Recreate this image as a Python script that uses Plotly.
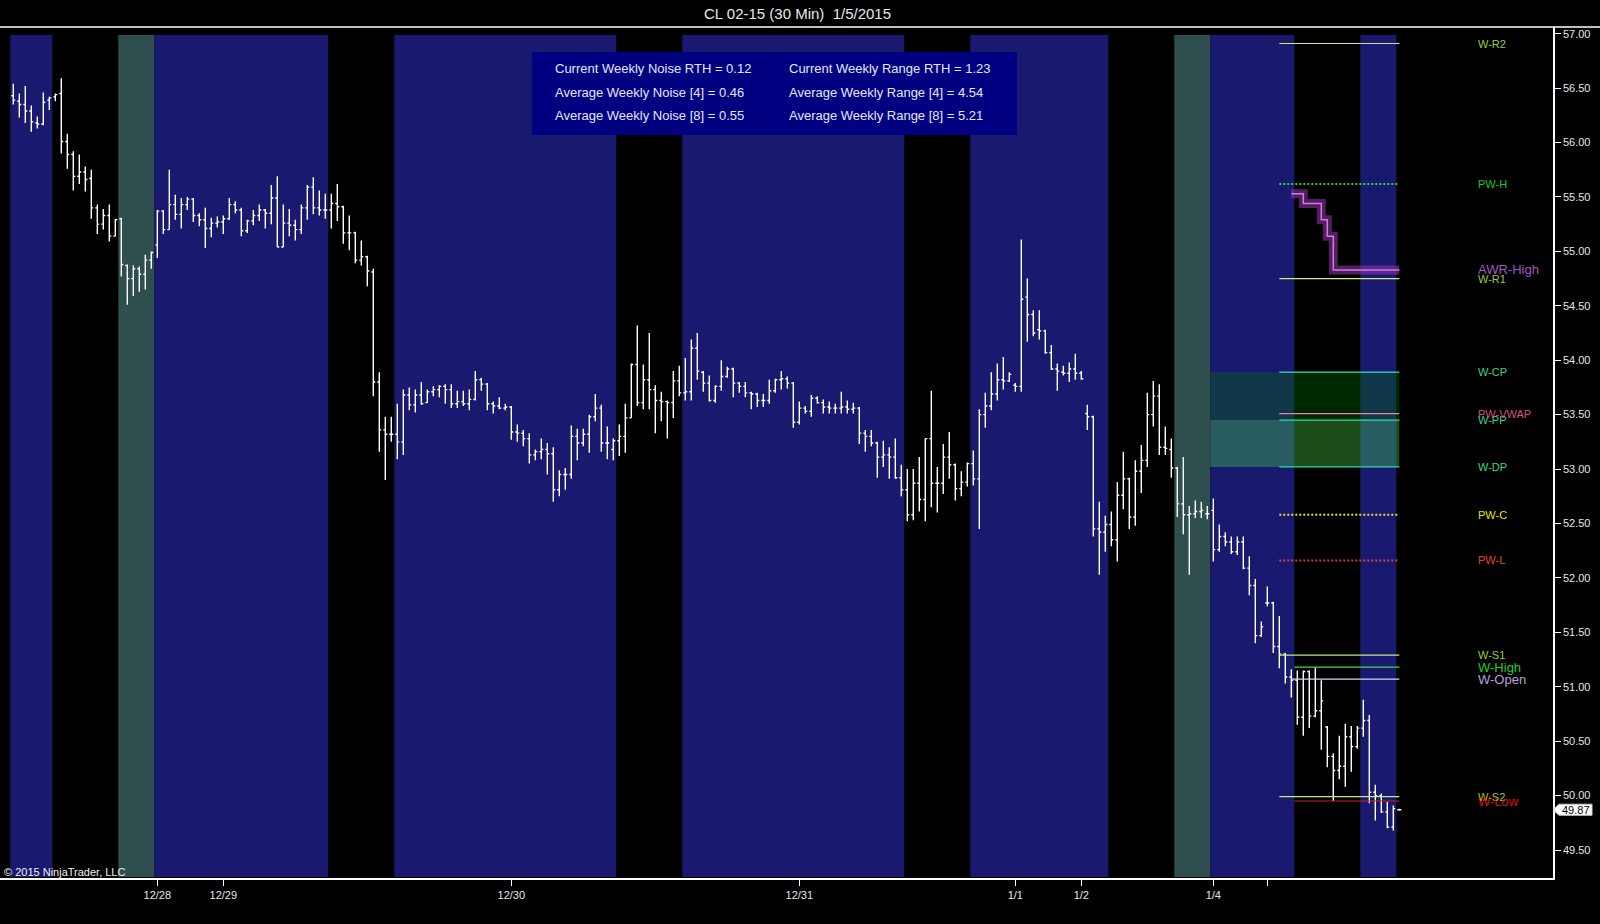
import plotly.graph_objects as go

# ---------------- data ----------------
opens = [56.43, 56.38, 56.35, 56.29, 56.18, 56.17, 56.39, 56.42, 56.45, 56.01,
         55.89, 55.69, 55.73, 55.67, 55.40, 55.25, 55.33, 55.14, 55.30, 54.87,
         54.75, 54.84, 54.79, 54.92, 55.06, 55.37, 55.20, 55.43, 55.34, 55.43,
         55.48, 55.33, 55.29, 55.21, 55.26, 55.27, 55.30, 55.43, 55.38, 55.19,
         55.28, 55.33, 55.38, 55.35, 55.49, 55.04, 55.26, 55.24, 55.20, 55.40,
         55.59, 55.40, 55.38, 55.38, 55.44, 55.41, 55.17, 55.17, 54.92, 54.95,
         54.81, 53.80, 53.36, 53.32, 53.32, 53.25, 53.68, 53.59, 53.68, 53.61,
         53.71, 53.73, 53.76, 53.73, 53.60, 53.62, 53.60, 53.64, 53.82, 53.78,
         53.60, 53.58, 53.56, 53.57, 53.34, 53.33, 53.28, 53.13, 53.16, 53.18,
         53.14, 52.81, 52.95, 52.95, 53.30, 53.24, 53.32, 53.48, 53.56, 53.24,
         53.18, 53.26, 53.30, 53.47, 53.96, 53.61, 53.82, 53.73, 53.63, 53.62,
         53.61, 53.81, 53.70, 53.71, 54.11, 53.89, 53.79, 53.63, 53.76, 53.85,
         53.92, 53.79, 53.76, 53.70, 53.69, 53.63, 53.63, 53.72, 53.82, 53.83,
         53.79, 53.43, 53.56, 53.53, 53.65, 53.61, 53.57, 53.56, 53.56, 53.57,
         53.55, 53.56, 53.33, 53.30, 53.24, 53.11, 53.13, 53.11, 52.92, 52.81,
         52.58, 52.87, 52.72, 53.28, 52.87, 52.87, 53.11, 53.04, 52.82, 52.88,
         53.05, 52.91, 53.50, 53.58, 53.69, 53.82, 53.81, 53.77, 53.76, 54.58,
         54.42, 54.28, 54.27, 54.07, 53.92, 53.89, 53.88, 53.92, 53.88, 53.51,
         53.48, 52.45, 52.42, 52.49, 52.35, 52.76, 52.91, 52.56, 52.98, 53.08,
         53.50, 53.67, 53.20, 53.18, 53.01, 52.68, 52.58, 52.59, 52.61, 52.59,
         52.62, 52.26, 52.38, 52.33, 52.24, 52.33, 52.09, 51.93, 51.47, 51.77,
         51.77, 51.37, 51.30, 51.09, 51.06, 50.72, 51.14, 50.73, 50.78, 50.63,
         50.36, 50.23, 50.27, 50.54, 50.45, 50.62, 50.69, 50.03, 50.00, 49.85,
         49.71, 49.87]
highs = [56.54, 56.45, 56.52, 56.34, 56.24, 56.46, 56.42, 56.45, 56.59, 56.08,
         55.92, 55.89, 55.78, 55.75, 55.43, 55.39, 55.43, 55.30, 55.31, 54.88,
         54.87, 54.86, 54.97, 55.00, 55.38, 55.38, 55.75, 55.52, 55.49, 55.50,
         55.49, 55.35, 55.40, 55.31, 55.32, 55.33, 55.49, 55.46, 55.40, 55.29,
         55.38, 55.43, 55.39, 55.61, 55.69, 55.43, 55.39, 55.29, 55.43, 55.61,
         55.68, 55.56, 55.53, 55.53, 55.62, 55.42, 55.33, 55.18, 55.10, 54.96,
         54.84, 53.89, 53.48, 53.48, 53.60, 53.73, 53.75, 53.73, 53.80, 53.73,
         53.76, 53.77, 53.78, 53.78, 53.72, 53.72, 53.73, 53.90, 53.84, 53.79,
         53.62, 53.66, 53.60, 53.58, 53.41, 53.36, 53.33, 53.18, 53.28, 53.24,
         53.20, 52.99, 53.01, 53.40, 53.37, 53.37, 53.50, 53.69, 53.59, 53.39,
         53.28, 53.41, 53.60, 53.97, 54.32, 53.96, 54.25, 53.77, 53.71, 53.63,
         53.90, 53.95, 54.02, 54.19, 54.25, 53.90, 53.86, 53.77, 54.00, 53.94,
         53.93, 53.80, 53.80, 53.71, 53.70, 53.69, 53.82, 53.83, 53.90, 53.85,
         53.80, 53.62, 53.58, 53.68, 53.67, 53.64, 53.62, 53.60, 53.71, 53.63,
         53.61, 53.57, 53.36, 53.36, 53.25, 53.26, 53.20, 53.28, 53.04, 53.00,
         53.00, 53.11, 53.28, 53.72, 53.02, 53.23, 53.34, 53.05, 52.98, 53.06,
         53.17, 53.55, 53.70, 53.89, 53.97, 54.03, 53.89, 53.79, 55.11, 54.75,
         54.46, 54.46, 54.28, 54.14, 53.97, 53.95, 53.98, 54.06, 53.90, 53.59,
         53.49, 52.70, 52.57, 52.61, 52.88, 53.16, 52.92, 53.08, 53.22, 53.70,
         53.81, 53.78, 53.39, 53.28, 53.02, 53.11, 52.66, 52.71, 52.70, 52.66,
         52.73, 52.49, 52.42, 52.38, 52.38, 52.38, 52.20, 51.99, 51.60, 51.92,
         51.78, 51.65, 51.31, 51.16, 51.15, 51.15, 51.15, 51.18, 51.06, 50.64,
         50.39, 50.55, 50.66, 50.64, 50.64, 50.88, 50.74, 50.10, 50.02, 49.94,
         49.91, 49.88]
lows = [56.35, 56.23, 56.18, 56.10, 56.13, 56.16, 56.30, 56.38, 55.90, 55.76,
        55.56, 55.62, 55.55, 55.30, 55.16, 55.20, 55.09, 55.14, 54.77, 54.51,
        54.59, 54.63, 54.65, 54.84, 54.94, 55.16, 55.20, 55.29, 55.21, 55.38,
        55.27, 55.23, 55.03, 55.13, 55.22, 55.16, 55.29, 55.35, 55.14, 55.17,
        55.24, 55.28, 55.21, 55.25, 55.04, 55.04, 55.14, 55.10, 55.16, 55.29,
        55.34, 55.33, 55.30, 55.21, 55.28, 55.07, 55.01, 54.89, 54.87, 54.68,
        53.67, 53.16, 52.90, 53.25, 53.09, 53.13, 53.54, 53.52, 53.59, 53.61,
        53.67, 53.66, 53.60, 53.56, 53.56, 53.58, 53.54, 53.63, 53.72, 53.54,
        53.51, 53.55, 53.54, 53.27, 53.25, 53.21, 53.05, 53.08, 53.09, 52.95,
        52.70, 52.75, 52.81, 52.91, 53.08, 53.21, 53.15, 53.44, 53.16, 53.09,
        53.08, 53.12, 53.15, 53.47, 53.58, 53.55, 53.55, 53.33, 53.44, 53.28,
        53.47, 53.67, 53.63, 53.63, 53.82, 53.71, 53.62, 53.61, 53.72, 53.84,
        53.66, 53.70, 53.66, 53.55, 53.57, 53.57, 53.60, 53.70, 53.73, 53.74,
        53.38, 53.41, 53.51, 53.48, 53.60, 53.51, 53.51, 53.51, 53.51, 53.51,
        53.51, 53.23, 53.16, 53.21, 52.92, 53.02, 52.91, 52.91, 52.75, 52.52,
        52.53, 52.61, 52.52, 52.65, 52.60, 52.77, 52.91, 52.71, 52.75, 52.84,
        52.85, 52.45, 53.38, 53.54, 53.63, 53.73, 53.80, 53.71, 53.71, 54.17,
        54.22, 54.19, 54.06, 53.91, 53.72, 53.86, 53.80, 53.82, 53.82, 53.36,
        52.38, 52.03, 52.24, 52.29, 52.15, 52.63, 52.45, 52.48, 52.78, 53.02,
        53.39, 53.13, 53.13, 52.92, 52.56, 52.40, 52.03, 52.55, 52.55, 52.54,
        52.15, 52.24, 52.29, 52.22, 52.21, 52.08, 51.84, 51.40, 51.46, 51.74,
        51.31, 51.17, 51.03, 50.90, 50.65, 50.55, 50.62, 50.72, 50.42, 50.26,
        49.95, 50.15, 50.08, 50.22, 50.43, 50.54, 49.93, 49.77, 49.84, 49.70,
        49.68, 49.86]
closes = [56.39, 56.35, 56.29, 56.19, 56.17, 56.37, 56.41, 56.44, 56.01, 55.89,
          55.69, 55.73, 55.66, 55.40, 55.25, 55.33, 55.14, 55.29, 54.88, 54.75,
          54.84, 54.79, 54.92, 54.99, 55.37, 55.20, 55.43, 55.34, 55.43, 55.48,
          55.33, 55.29, 55.21, 55.26, 55.27, 55.30, 55.43, 55.38, 55.19, 55.28,
          55.33, 55.38, 55.35, 55.49, 55.04, 55.26, 55.24, 55.20, 55.40, 55.59,
          55.40, 55.38, 55.38, 55.44, 55.41, 55.17, 55.17, 54.92, 54.95, 54.82,
          53.80, 53.36, 53.32, 53.32, 53.25, 53.68, 53.59, 53.68, 53.60, 53.71,
          53.73, 53.76, 53.73, 53.60, 53.62, 53.60, 53.64, 53.82, 53.78, 53.60,
          53.58, 53.56, 53.57, 53.34, 53.33, 53.28, 53.13, 53.16, 53.18, 53.14,
          52.81, 52.95, 52.95, 53.30, 53.24, 53.32, 53.48, 53.56, 53.24, 53.24,
          53.26, 53.30, 53.47, 53.96, 53.61, 53.82, 53.73, 53.63, 53.62, 53.61,
          53.81, 53.70, 53.71, 54.11, 53.90, 53.79, 53.63, 53.76, 53.85, 53.92,
          53.79, 53.76, 53.70, 53.69, 53.63, 53.63, 53.72, 53.82, 53.83, 53.79,
          53.43, 53.56, 53.53, 53.65, 53.61, 53.57, 53.56, 53.56, 53.57, 53.55,
          53.56, 53.33, 53.30, 53.24, 53.11, 53.13, 53.11, 52.92, 52.81, 52.58,
          52.87, 52.72, 53.28, 52.87, 52.87, 53.11, 53.04, 52.82, 52.88, 53.05,
          52.91, 53.50, 53.58, 53.69, 53.82, 53.81, 53.87, 53.76, 54.56, 54.42,
          54.25, 54.27, 54.07, 53.92, 53.90, 53.88, 53.92, 53.88, 53.83, 53.48,
          52.45, 52.42, 52.49, 52.35, 52.76, 52.91, 52.56, 52.98, 53.08, 53.50,
          53.67, 53.20, 53.19, 53.01, 52.68, 52.58, 52.59, 52.61, 52.62, 52.59,
          52.26, 52.38, 52.33, 52.24, 52.33, 52.09, 51.93, 51.47, 51.55, 51.77,
          51.37, 51.30, 51.09, 51.06, 50.72, 51.14, 50.73, 50.78, 50.87, 50.36,
          50.23, 50.27, 50.54, 50.45, 50.62, 50.69, 50.03, 50.00, 49.85, 49.71,
          49.88, 49.87]
bars = list(range(len(opens)))

date_tick_bars = [24, 35, 83, 131, 167, 178, 200, 209]
date_tick_labels = ["12/28", "12/29", "12/30", "12/31", "1/1", "1/2", "1/4", ""]

price_ticks = [49.50, 50.00, 50.50, 51.00, 51.50, 52.00, 52.50, 53.00,
               53.50, 54.00, 54.50, 55.00, 55.50, 56.00, 56.50, 57.00]

# session shading (bar index ranges)
session_start = [0, 18, 24, 64, 112, 160, 194, 200, 225]
session_end = [7, 24, 53, 101, 149, 183, 200, 214, 231]
session_kind = ["eth", "sun", "eth", "eth", "eth", "eth", "sun", "eth", "eth"]

# weekly levels
level_names = ["W-R2", "PW-H", "W-R1", "W-CP", "W-PP", "PW-VWAP", "W-DP",
               "PW-C", "PW-L", "W-S1", "W-High", "W-Open", "W-S2", "W-Low"]
level_prices = [56.91, 55.62, 54.75, 53.89, 53.45, 53.51, 53.02,
                52.58, 52.16, 51.29, 51.18, 51.07, 49.99, 49.95]
level_start = [211, 211, 211, 211, 211, 211, 211,
               211, 211, 211, 213.5, 213, 211, 213.5]
level_end = [231] * len(level_names)

# average weekly range high (stepped)
awr_bars = list(range(213, 232))
awr_values = [55.53, 55.53, 55.44, 55.44, 55.44, 55.29, 55.14] + [54.83] * 12

# pivot zones
zone_start_bar = 199.5
zone_end_bar = 231

# info box
noise_labels = ["Current Weekly Noise RTH", "Average Weekly Noise [4]", "Average Weekly Noise [8]"]
noise_values = [0.12, 0.46, 0.55]
range_labels = ["Current Weekly Range RTH", "Average Weekly Range [4]", "Average Weekly Range [8]"]
range_values = [1.23, 4.54, 5.21]

title_text = "CL 02-15 (30 Min)\u00a0 1/5/2015"

# ---------------- styling ----------------
FONT = "Liberation Sans, Arial, sans-serif"
W, H = 1600, 924
PX_W, PX_TOP, PX_BOT = 1553, 27, 878


def px_x(px):
    return px / PX_W


def px_y(py):
    return (PX_BOT - py) / (PX_BOT - PX_TOP)


session_colors = {"eth": "#191970", "sun": "#2f4f4f"}

line_colors = {"W-R2": "#c8ec7c", "PW-H": "#2ec83c", "W-R1": "#d2f07c", "W-CP": "#3cdcc8",
               "W-PP": "#34dc96", "PW-VWAP": "#f082aa", "W-DP": "#28dca8", "PW-C": "#dcdc3c",
               "PW-L": "#d04040", "W-S1": "#bef07a", "W-High": "#46dc46", "W-Open": "#dcd2ee",
               "W-S2": "#bef07a", "W-Low": "#cc1e1e"}
label_colors = {"W-R2": "#9acd32", "PW-H": "#22c322", "W-R1": "#9acd32", "W-CP": "#3cd28c",
                "W-PP": "#3cd28c", "PW-VWAP": "#d2508c", "W-DP": "#3cd28c", "PW-C": "#e6e600",
                "PW-L": "#e04a2a", "W-S1": "#9acd32", "W-High": "#22cc22", "W-Open": "#b8a0d8",
                "W-S2": "#9acd32", "W-Low": "#dd1111"}
dotted = {"PW-H", "PW-C", "PW-L"}
big_labels = {"W-High", "W-Open", "W-Low"}

fig = go.Figure()

shapes = []
for s, e, k in zip(session_start, session_end, session_kind):
    shapes.append(dict(type="rect", xref="x", yref="paper", x0=s - 0.5, x1=e - 0.5,
                       y0=px_y(877), y1=px_y(35), fillcolor=session_colors[k],
                       line=dict(width=0), layer="below"))

lv = dict(zip(level_names, level_prices))
shapes.append(dict(type="rect", xref="x", yref="y", x0=zone_start_bar, x1=zone_end_bar,
                   y0=lv["W-PP"], y1=lv["W-CP"], fillcolor="rgba(0,114,0,0.35)",
                   line=dict(width=0), layer="below"))
shapes.append(dict(type="rect", xref="x", yref="y", x0=zone_start_bar, x1=zone_end_bar,
                   y0=lv["W-DP"], y1=lv["W-PP"], fillcolor="rgba(69,205,69,0.375)",
                   line=dict(width=0), layer="below"))

# top separator line
shapes.append(dict(type="line", xref="paper", yref="paper", x0=0, x1=W / PX_W, y0=1, y1=1,
                   line=dict(color="white", width=1.5)))

# info box
shapes.append(dict(type="rect", xref="paper", yref="paper", x0=px_x(532), x1=px_x(1017),
                   y0=px_y(135), y1=px_y(52), fillcolor="#000080", line=dict(width=0),
                   layer="above"))

# last price tag
last = closes[-1]
hh = 5.5 / 108.84
shapes.append(dict(type="path", xref="paper", yref="y",
                   path=(f"M {px_x(1553)},{last} L {px_x(1559)},{last + hh} "
                         f"L {px_x(1592)},{last + hh} L {px_x(1592)},{last - hh} "
                         f"L {px_x(1559)},{last - hh} Z"),
                   fillcolor="white", line=dict(color="#cccccc", width=1)))

fig.add_trace(go.Ohlc(x=bars, open=opens, high=highs, low=lows, close=closes,
                      increasing=dict(line=dict(color="white", width=1.4)),
                      decreasing=dict(line=dict(color="white", width=1.4)),
                      tickwidth=0.33, hoverinfo="skip", showlegend=False))

# AWR-High stepped line (glow + core)
fig.add_trace(go.Scatter(x=awr_bars, y=awr_values, mode="lines", line_shape="hv",
                         line=dict(color="rgba(150,55,170,0.55)", width=9),
                         hoverinfo="skip", showlegend=False))
fig.add_trace(go.Scatter(x=awr_bars, y=awr_values, mode="lines", line_shape="hv",
                         line=dict(color="#d27ae6", width=1.5),
                         hoverinfo="skip", showlegend=False))

for name, p, s, e in zip(level_names, level_prices, level_start, level_end):
    fig.add_trace(go.Scatter(x=[s, e], y=[p, p], mode="lines",
                             line=dict(color=line_colors[name],
                                       width=2 if name in dotted else 1.2,
                                       dash="2px,2px" if name in dotted else "solid"),
                             hoverinfo="skip", showlegend=False))

annotations = []
for name, p in zip(level_names, level_prices):
    annotations.append(dict(x=px_x(1476), xref="paper", y=p, yref="y", text=name,
                            showarrow=False, xanchor="left", yanchor="middle",
                            font=dict(family=FONT, size=13 if name in big_labels else 11,
                                      color=label_colors[name])))
annotations.append(dict(x=px_x(1476), xref="paper", y=awr_values[-1], yref="y", text="AWR-High",
                        showarrow=False, xanchor="left", yanchor="middle",
                        font=dict(family=FONT, size=13, color="#a654c4")))

row_y = [69, 92, 115.5]
for k in range(3):
    annotations.append(dict(x=px_x(553), xref="paper", y=px_y(row_y[k]), yref="paper",
                            text=f"{noise_labels[k]} = {noise_values[k]:.2f}", showarrow=False,
                            xanchor="left", yanchor="middle",
                            font=dict(family=FONT, size=13, color="#e6e6fa")))
    annotations.append(dict(x=px_x(786.5), xref="paper", y=px_y(row_y[k]), yref="paper",
                            text=f"{range_labels[k]} = {range_values[k]:.2f}", showarrow=False,
                            xanchor="left", yanchor="middle",
                            font=dict(family=FONT, size=13, color="#e6e6fa")))

annotations.append(dict(x=px_x(797), xref="paper", y=px_y(13.5), yref="paper", text=title_text,
                        showarrow=False, xanchor="center", yanchor="middle",
                        font=dict(family=FONT, size=15, color="#e8e8e8")))
annotations.append(dict(x=px_x(2), xref="paper", y=px_y(872), yref="paper",
                        text="\u00a9 2015 NinjaTrader, LLC", showarrow=False,
                        xanchor="left", yanchor="middle",
                        font=dict(family=FONT, size=11, color="#f0f0f0")))
annotations.append(dict(x=px_x(1575.5), xref="paper", y=last, yref="y", text=f"{last:.2f}",
                        showarrow=False, xanchor="center", yanchor="middle",
                        font=dict(family=FONT, size=11, color="black")))

fig.update_layout(
    width=W, height=H,
    margin=dict(l=0, r=W - PX_W, t=PX_TOP, b=H - PX_BOT, pad=0),
    paper_bgcolor="black", plot_bgcolor="black",
    showlegend=False, font=dict(family=FONT, color="white"),
    shapes=shapes, annotations=annotations,
    xaxis=dict(range=[-13.3 / 6, (PX_W - 13.3) / 6], showgrid=False, zeroline=False,
               showline=True, linecolor="white", linewidth=1.5, ticks="outside", ticklen=6,
               tickcolor="white", tickvals=date_tick_bars, ticktext=date_tick_labels,
               tickfont=dict(family=FONT, size=11, color="#e6e6e6"),
               rangeslider=dict(visible=False), fixedrange=True),
    yaxis=dict(range=[57 - (PX_BOT - 33.7) / 108.84, 57 + (33.7 - PX_TOP) / 108.84],
               side="right", showgrid=False, zeroline=False, showline=True,
               linecolor="white", linewidth=1.5, ticks="outside", ticklen=6,
               tickcolor="white", tickvals=price_ticks,
               ticktext=[f"{v:.2f}" for v in price_ticks],
               tickfont=dict(family=FONT, size=11, color="#e6e6e6"), fixedrange=True),
)

fig.write_html(
    "out.html",
    config={"displayModeBar": False},
    post_script="document.body.style.margin='0';document.body.style.background='black';",
)
